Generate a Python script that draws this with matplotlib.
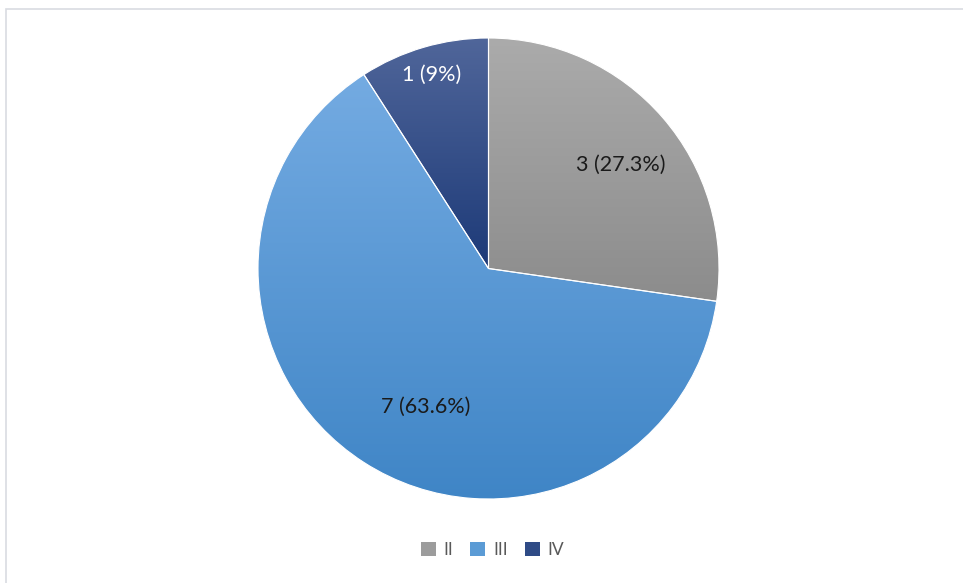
import numpy as np
import matplotlib
matplotlib.use('Agg')
import matplotlib.pyplot as plt
from matplotlib.colors import LinearSegmentedColormap
from matplotlib.patches import Patch, Rectangle

plt.rcParams['font.family'] = ['Lato', 'DejaVu Sans']

# data
categories = ['II', 'III', 'IV']
counts = [3, 7, 1]
pct_text = ['27.3%', '63.6%', '9%']

# gradient colours for each slice: (top, bottom)
grad_colors = [('#ababab', '#8c8c8c'),
               ('#74abe2', '#3f85c6'),
               ('#50669a', '#1d3a78')]
mid_colors = ['#9c9c9c', '#5b9bd5', '#2f4b86']
label_colors = ['#1a1a1a', '#1a1a1a', 'white']
# label placement (fraction of radius, angle in degrees)
label_pos = [(0.73, 38.0), (0.66, 245.6), (0.875, 106.5)]

W, H = 963, 583
fig = plt.figure(figsize=(W / 100, H / 100), dpi=100)
ax = fig.add_axes([0, 0, 1, 1])

cx, cy, r = 488.5, 583 - 268.5, 230.5
wedges, _ = ax.pie(counts, startangle=90, counterclock=False,
                   center=(cx, cy), radius=r, colors=mid_colors,
                   wedgeprops=dict(edgecolor='white', linewidth=0.8))

grad = np.linspace(0, 1, 256).reshape(-1, 1)
for w, (top, bot) in zip(wedges, grad_colors):
    verts = w.get_path().vertices
    x0, y0 = verts.min(0)
    x1, y1 = verts.max(0)
    cmap = LinearSegmentedColormap.from_list('g', [bot, top])
    im = ax.imshow(grad, cmap=cmap, origin='lower', aspect='auto',
                   extent=(x0, x1, y0, y1), zorder=1, interpolation='bilinear')
    im.set_clip_path(w)
    w.set_facecolor('none')
    w.set_zorder(2)

for i, w in enumerate(wedges):
    frac, ang = label_pos[i]
    tx = cx + frac * r * np.cos(np.radians(ang))
    ty = cy + frac * r * np.sin(np.radians(ang))
    ax.text(tx, ty, '{} ({})'.format(counts[i], pct_text[i]), ha='center', va='center',
            fontsize=15.5, color=label_colors[i], zorder=3)

handles = [Patch(facecolor=c, edgecolor='none') for c in mid_colors]
ax.legend(handles, categories, loc='center', bbox_to_anchor=(492.5 / W, 33 / H),
          ncol=3, frameon=False, fontsize=12.5, handlelength=0.85, handleheight=0.85,
          handletextpad=0.45, columnspacing=1.0, labelcolor='#595959')

ax.add_patch(Rectangle((5.5, -10), 1000, 583 - 8.5 + 10, fill=False,
                       edgecolor='#d9dce1', linewidth=1.2, zorder=0))

ax.set_xlim(0, W)
ax.set_ylim(0, H)
ax.set_aspect('equal')
ax.axis('off')

fig.savefig('out.png', dpi=100)
